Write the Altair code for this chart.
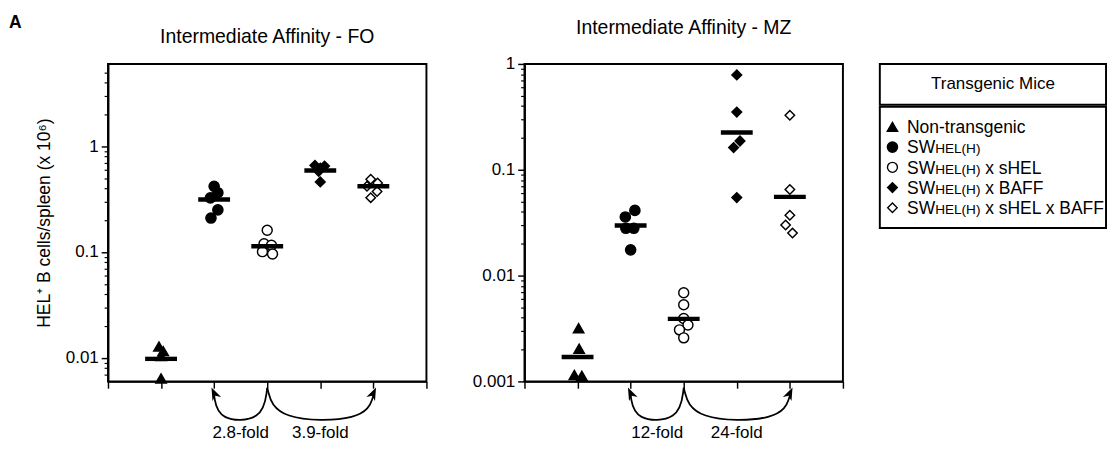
import altair as alt
import pandas as pd

FONT = "Liberation Sans"

# ---------------- data ----------------
groups = ["Non-transgenic", "SWHEL(H)", "SWHEL(H) x sHEL", "SWHEL(H) x BAFF", "SWHEL(H) x sHEL x BAFF"]
group_pos = [1, 2, 3, 4, 5]

legend_title = "Transgenic Mice"
legend_prefix = ["Non-transgenic", "SW", "SW", "SW", "SW"]
legend_caps = ["", "HEL(H)", "HEL(H)", "HEL(H)", "HEL(H)"]
legend_suffix = ["", "", "x sHEL", "x BAFF", "x sHEL x BAFF"]

y_title = "HEL\u207a B cells/spleen (x 10\u2076)"

# Intermediate Affinity - FO  (x 10^6 cells / spleen)
fo_title = "Intermediate Affinity - FO"
fo_nt = [0.0128, 0.0116, 0.0104, 0.0064]
fo_sw = [0.419, 0.364, 0.325, 0.251, 0.210]
fo_shel = [0.161, 0.120, 0.116, 0.101, 0.096]
fo_baff = [0.66, 0.65, 0.62, 0.58, 0.46]
fo_shel_baff = [0.489, 0.449, 0.419, 0.374, 0.327]
fo_means = [0.0098, 0.314, 0.1135, 0.59, 0.419]
fo_nt_dx = [-0.04, 0.04, 0.0, 0.0]
fo_sw_dx = [0.0, 0.07, -0.07, 0.07, -0.06]
fo_shel_dx = [0.0, -0.06, 0.08, -0.09, 0.10]
fo_baff_dx = [-0.10, 0.08, 0.0, -0.03, 0.0]
fo_shel_baff_dx = [-0.05, 0.08, -0.12, 0.07, -0.05]
fo_domain = [0.006, 6]
fo_major_ticks = [0.01, 0.1, 1]
fo_minor_ticks = [0.007, 0.008, 0.009, 0.02, 0.03, 0.04, 0.05, 0.06, 0.07, 0.08, 0.09,
                  0.2, 0.3, 0.4, 0.5, 0.6, 0.7, 0.8, 0.9, 2, 3, 4, 5]
fo_folds = ["2.8-fold", "3.9-fold"]

# Intermediate Affinity - MZ
mz_title = "Intermediate Affinity - MZ"
mz_nt = [0.00318, 0.00204, 0.00115, 0.00113]
mz_sw = [0.0413, 0.0358, 0.0280, 0.0280, 0.0175]
mz_shel = [0.00689, 0.00531, 0.00393, 0.00341, 0.00307, 0.00258]
mz_baff = [0.788, 0.351, 0.187, 0.162, 0.0546]
mz_shel_baff = [0.327, 0.065, 0.0372, 0.0301, 0.0252]
mz_means = [0.0017, 0.0297, 0.0039, 0.225, 0.0555]
mz_nt_dx = [0.02, 0.03, -0.06, 0.08]
mz_sw_dx = [0.08, -0.10, -0.09, 0.06, 0.0]
mz_shel_dx = [0.0, 0.0, 0.0, 0.08, -0.08, 0.0]
mz_baff_dx = [0.0, 0.0, 0.06, -0.06, 0.0]
mz_shel_baff_dx = [0.0, 0.0, 0.0, -0.08, 0.05]
mz_domain = [0.001, 1]
mz_major_ticks = [0.001, 0.01, 0.1, 1]
mz_minor_ticks = [0.002, 0.003, 0.004, 0.005, 0.006, 0.007, 0.008, 0.009,
                  0.02, 0.03, 0.04, 0.05, 0.06, 0.07, 0.08, 0.09,
                  0.2, 0.3, 0.4, 0.5, 0.6, 0.7, 0.8, 0.9]
mz_folds = ["12-fold", "24-fold"]

fold_from = 3
fold_to = [2, 5]

# ---------------- styles ----------------
shape_range = ["triangle-up", "circle", "circle", "diamond", "diamond"]
fill_range = ["black", "black", "white", "black", "white"]
size_range = [115, 95, 80, 175, 140]
legend_size_range = [100, 95, 75, 150, 120]
ARROW = "M0,-1L0.75,1L0,0.45L-0.75,1Z"

PW, PH = 328, 327


def make_panel(title, values, dxs, means, domain, major, minor, folds, ytitle):
    rows = []
    for gi, (vals, ds) in enumerate(zip(values, dxs)):
        for v, d in zip(vals, ds):
            rows.append({"group": groups[gi], "x": group_pos[gi] + d, "value": v})
    df_pts = pd.DataFrame(rows)
    df_means = pd.DataFrame({"group": groups,
                             "x1": [p - 0.3 for p in group_pos],
                             "x2": [p + 0.3 for p in group_pos],
                             "mean": means})
    arc_rows, head_rows, lab_rows = [], [], []
    for ai, (t, lab) in enumerate(zip(fold_to, folds)):
        d = t - fold_from
        ctrl = [(fold_from, -0.02), (fold_from + 0.08 * d, -0.125),
                (t - 0.08 * d, -0.125), (t, -0.045)]
        for k, (xx, yy) in enumerate(ctrl):
            arc_rows.append({"arc": ai, "k": k, "x": xx, "y": yy})
        head_rows.append({"x": t, "y": -0.037, "angle": 335 if d < 0 else 25})
        lab_rows.append({"x": (t + fold_from) / 2, "y": -0.163, "text": lab})
    df_arcs = pd.DataFrame(arc_rows)
    df_heads = pd.DataFrame(head_rows)
    df_labs = pd.DataFrame(lab_rows)

    xscale = alt.Scale(domain=[0, 6], nice=False, zero=False)
    xaxis = alt.Axis(values=list(range(7)), labels=False, ticks=True, tickSize=7, tickWidth=1.5,
                     tickColor="black", domainColor="black", domainWidth=2, grid=False, title=None)
    yscale = alt.Scale(type="log", domain=domain, nice=False)
    ann_scale = alt.Scale(domain=[0, 1], nice=False, zero=False)
    ymajor = alt.Axis(values=major, format="~g", orient="left", tickSize=7, tickWidth=1.5,
                      tickColor="black", domainColor="black", domainWidth=2, grid=False,
                      labelFontSize=17.5, labelColor="black", labelPadding=3, labelFont=FONT,
                      title=ytitle, titleFontSize=18, titleFontWeight="normal", titleColor="black",
                      titleFont=FONT, titlePadding=12)
    yminor = alt.Axis(values=minor, orient="left", labels=False, tickSize=4, tickWidth=1.2,
                      tickColor="black", domain=False, grid=False, title=None)

    X = lambda f: alt.X(f, scale=xscale, axis=xaxis)

    pts = alt.Chart(df_pts).mark_point(filled=True, opacity=1, stroke="black", strokeWidth=1.5).encode(
        x=X("x:Q"),
        y=alt.Y("value:Q", scale=yscale, axis=ymajor),
        shape=alt.Shape("group:N", scale=alt.Scale(domain=groups, range=shape_range), legend=None),
        fill=alt.Fill("group:N", scale=alt.Scale(domain=groups, range=fill_range), legend=None),
        size=alt.Size("group:N", scale=alt.Scale(domain=groups, range=size_range), legend=None),
    )
    bars = alt.Chart(df_means).mark_rule(color="black", strokeWidth=4.5).encode(
        x=X("x1:Q"), x2="x2:Q",
        y=alt.Y("mean:Q", scale=yscale, axis=yminor),
    )
    arcs = alt.Chart(df_arcs).mark_line(interpolate="basis", color="black", strokeWidth=1.8).encode(
        x=X("x:Q"), y=alt.Y("y:Q", scale=ann_scale, axis=None),
        detail="arc:N", order="k:Q",
    )
    heads = alt.Chart(df_heads).mark_point(shape=ARROW, filled=True, color="black", opacity=1, size=170).encode(
        x=X("x:Q"), y=alt.Y("y:Q", scale=ann_scale, axis=None),
        angle=alt.Angle("angle:Q", scale=None),
    )
    labs = alt.Chart(df_labs).mark_text(fontSize=17.5, baseline="middle", color="black", font=FONT).encode(
        x=X("x:Q"), y=alt.Y("y:Q", scale=ann_scale, axis=None), text="text:N",
    )
    return alt.layer(pts, bars, arcs, heads, labs).resolve_scale(y="independent").properties(
        width=PW, height=PH,
        title=alt.TitleParams(title, fontSize=20, fontWeight="normal", color="black", font=FONT,
                              offset=18, frame="group"),
    )


fo = make_panel(fo_title, [fo_nt, fo_sw, fo_shel, fo_baff, fo_shel_baff],
                [fo_nt_dx, fo_sw_dx, fo_shel_dx, fo_baff_dx, fo_shel_baff_dx],
                fo_means, fo_domain, fo_major_ticks, fo_minor_ticks, fo_folds, y_title)
mz = make_panel(mz_title, [mz_nt, mz_sw, mz_shel, mz_baff, mz_shel_baff],
                [mz_nt_dx, mz_sw_dx, mz_shel_dx, mz_baff_dx, mz_shel_baff_dx],
                mz_means, mz_domain, mz_major_ticks, mz_minor_ticks, mz_folds, None)

# ---------------- legend ----------------
leg_df = pd.DataFrame({"group": groups, "prefix": legend_prefix, "caps": legend_caps, "suffix": legend_suffix})
rowy = alt.Y("group:N", scale=alt.Scale(type="point", domain=groups, padding=1), axis=None)
LW = 233
sym = alt.Chart(leg_df).mark_point(filled=True, opacity=1, stroke="black", strokeWidth=1.4).encode(
    x=alt.value(13), y=rowy,
    shape=alt.Shape("group:N", scale=alt.Scale(domain=groups, range=shape_range), legend=None),
    fill=alt.Fill("group:N", scale=alt.Scale(domain=groups, range=fill_range), legend=None),
    size=alt.Size("group:N", scale=alt.Scale(domain=groups, range=legend_size_range), legend=None),
)
t1 = alt.Chart(leg_df).mark_text(align="left", baseline="alphabetic", dy=6.5, fontSize=18, color="black", font=FONT).encode(
    x=alt.value(28), y=rowy, text="prefix:N")
t2 = alt.Chart(leg_df).mark_text(align="left", baseline="alphabetic", dy=6.5, dx=29, fontSize=14, color="black", font=FONT).encode(
    x=alt.value(28), y=rowy, text="caps:N")
t3 = alt.Chart(leg_df).mark_text(align="left", baseline="alphabetic", dy=6.5, dx=80.5, fontSize=18, color="black", font=FONT).encode(
    x=alt.value(28), y=rowy, text="suffix:N")
items = alt.layer(sym, t1, t2, t3).properties(width=LW, height=125)
header = alt.Chart(pd.DataFrame({"t": [legend_title]})).mark_text(fontSize=17.5, color="black", font=FONT).encode(
    x=alt.X("t:N", axis=None), y=alt.Y("t:N", axis=None), text="t:N").properties(width=LW, height=42)
legend = alt.vconcat(header, items, spacing=0)

inner = alt.hconcat(fo, mz, spacing=44)
chart = alt.hconcat(inner, legend, spacing=35).properties(
    title=alt.TitleParams("A", anchor="start", fontSize=18, fontWeight="bold", color="black", font=FONT,
                          offset=-15, dx=-27),
    padding={"left": 0, "top": 0, "right": 0, "bottom": 0},
).configure(font=FONT).configure_view(stroke="black", strokeWidth=2).configure_title(
    fontSize=20, fontWeight="normal", color="black", font=FONT)

chart.save("out.html", embed_options={"renderer": "svg", "actions": False})
